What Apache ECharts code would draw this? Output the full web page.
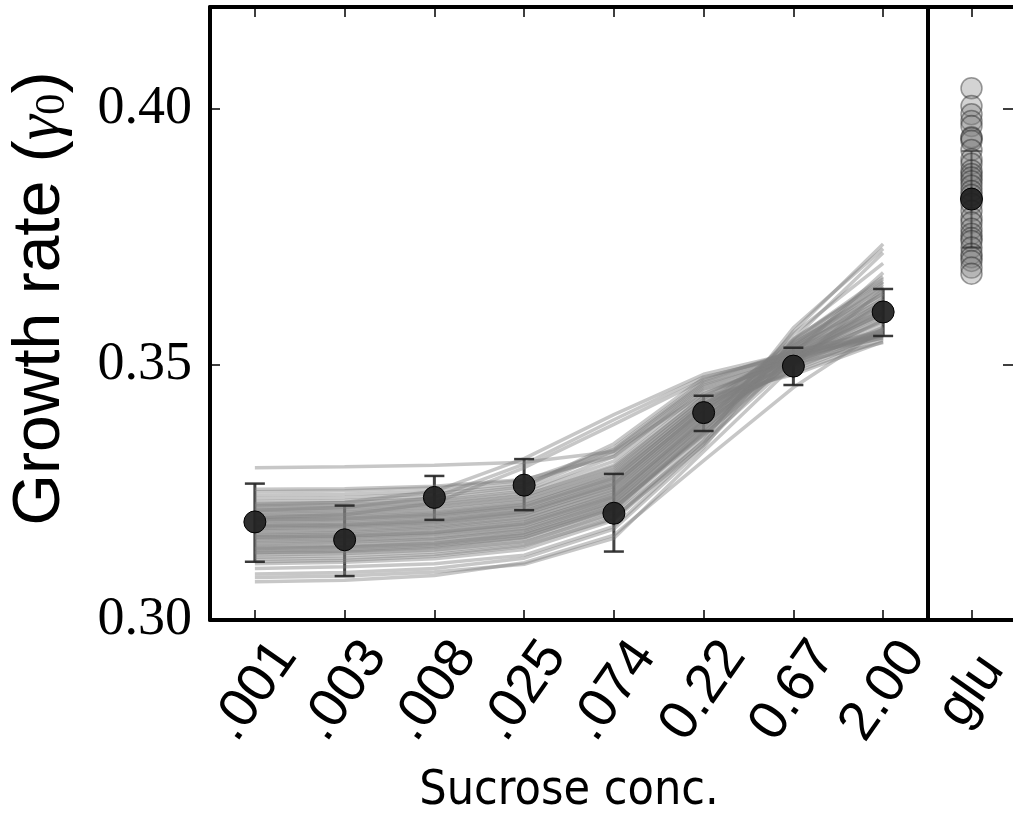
<!DOCTYPE html>
<html>
<head>
<meta charset="utf-8">
<script src="https://cdn.jsdelivr.net/npm/echarts@6/dist/echarts.min.js"></script>
<style>
html,body{margin:0;padding:0;background:#fff;}
#chart{width:1013px;height:822px;}
</style>
</head>
<body>
<div id="chart"></div>
<script>
// ---- data ----
const categories = ['.001', '.003', '.008', '.025', '.074', '0.22', '0.67', '2.00'];
const gluCategory = ['glu'];
const meanRate = [0.3192, 0.3157, 0.3240, 0.3264, 0.3209, 0.3406, 0.3497, 0.3603];
const errLow   = [0.3114, 0.3086, 0.3196, 0.3215, 0.3134, 0.3370, 0.3460, 0.3556];
const errHigh  = [0.3267, 0.3224, 0.3282, 0.3315, 0.3286, 0.3439, 0.3533, 0.3648];
const fitLines = [
  [0.3075, 0.3078, 0.3087, 0.3112, 0.3166, 0.3312, 0.3455, 0.3570],
  [0.3083, 0.3086, 0.3094, 0.3109, 0.3160, 0.3330, 0.3498, 0.3648],
  [0.3090, 0.3093, 0.3101, 0.3121, 0.3178, 0.3338, 0.3550, 0.3719],
  [0.3101, 0.3104, 0.3110, 0.3127, 0.3183, 0.3345, 0.3565, 0.3736],
  [0.3110, 0.3113, 0.3120, 0.3138, 0.3195, 0.3351, 0.3572, 0.3727],
  [0.3114, 0.3117, 0.3125, 0.3144, 0.3201, 0.3342, 0.3521, 0.3680],
  [0.3119, 0.3121, 0.3128, 0.3146, 0.3198, 0.3358, 0.3546, 0.3668],
  [0.3123, 0.3126, 0.3133, 0.3151, 0.3210, 0.3366, 0.3533, 0.3653],
  [0.3127, 0.3130, 0.3137, 0.3153, 0.3206, 0.3349, 0.3505, 0.3622],
  [0.3131, 0.3133, 0.3140, 0.3158, 0.3214, 0.3371, 0.3540, 0.3661],
  [0.3135, 0.3137, 0.3145, 0.3162, 0.3219, 0.3368, 0.3519, 0.3630],
  [0.3138, 0.3141, 0.3148, 0.3166, 0.3223, 0.3379, 0.3560, 0.3698],
  [0.3142, 0.3144, 0.3151, 0.3167, 0.3220, 0.3362, 0.3508, 0.3611],
  [0.3145, 0.3147, 0.3155, 0.3172, 0.3228, 0.3383, 0.3527, 0.3635],
  [0.3148, 0.3151, 0.3158, 0.3175, 0.3231, 0.3375, 0.3514, 0.3602],
  [0.3151, 0.3153, 0.3160, 0.3178, 0.3236, 0.3390, 0.3548, 0.3672],
  [0.3154, 0.3156, 0.3163, 0.3179, 0.3232, 0.3381, 0.3520, 0.3617],
  [0.3157, 0.3159, 0.3167, 0.3184, 0.3240, 0.3392, 0.3531, 0.3644],
  [0.3160, 0.3162, 0.3169, 0.3185, 0.3238, 0.3386, 0.3503, 0.3588],
  [0.3163, 0.3165, 0.3172, 0.3190, 0.3247, 0.3399, 0.3541, 0.3650],
  [0.3166, 0.3168, 0.3175, 0.3192, 0.3244, 0.3388, 0.3512, 0.3596],
  [0.3168, 0.3171, 0.3178, 0.3196, 0.3252, 0.3404, 0.3537, 0.3627],
  [0.3171, 0.3173, 0.3181, 0.3197, 0.3250, 0.3396, 0.3498, 0.3573],
  [0.3174, 0.3176, 0.3183, 0.3201, 0.3258, 0.3409, 0.3550, 0.3663],
  [0.3177, 0.3179, 0.3186, 0.3203, 0.3256, 0.3401, 0.3515, 0.3600],
  [0.3179, 0.3182, 0.3189, 0.3207, 0.3264, 0.3413, 0.3529, 0.3612],
  [0.3182, 0.3184, 0.3191, 0.3208, 0.3261, 0.3405, 0.3492, 0.3561],
  [0.3185, 0.3187, 0.3195, 0.3213, 0.3270, 0.3418, 0.3543, 0.3638],
  [0.3188, 0.3190, 0.3197, 0.3214, 0.3267, 0.3410, 0.3507, 0.3585],
  [0.3191, 0.3193, 0.3200, 0.3218, 0.3276, 0.3423, 0.3535, 0.3620],
  [0.3194, 0.3196, 0.3203, 0.3220, 0.3273, 0.3414, 0.3488, 0.3556],
  [0.3197, 0.3199, 0.3207, 0.3225, 0.3283, 0.3428, 0.3523, 0.3598],
  [0.3200, 0.3202, 0.3209, 0.3226, 0.3280, 0.3420, 0.3501, 0.3569],
  [0.3203, 0.3205, 0.3212, 0.3230, 0.3289, 0.3433, 0.3530, 0.3605],
  [0.3206, 0.3208, 0.3215, 0.3232, 0.3286, 0.3425, 0.3484, 0.3549],
  [0.3209, 0.3211, 0.3219, 0.3237, 0.3296, 0.3438, 0.3518, 0.3581],
  [0.3212, 0.3214, 0.3221, 0.3238, 0.3293, 0.3431, 0.3495, 0.3560],
  [0.3215, 0.3217, 0.3225, 0.3243, 0.3303, 0.3443, 0.3512, 0.3574],
  [0.3218, 0.3220, 0.3227, 0.3244, 0.3300, 0.3437, 0.3480, 0.3545],
  [0.3221, 0.3223, 0.3231, 0.3249, 0.3311, 0.3449, 0.3505, 0.3566],
  [0.3224, 0.3226, 0.3234, 0.3252, 0.3320, 0.3456, 0.3513, 0.3558],
  [0.3228, 0.3230, 0.3238, 0.3257, 0.3331, 0.3462, 0.3517, 0.3562],
  [0.3232, 0.3234, 0.3242, 0.3261, 0.3345, 0.3474, 0.3521, 0.3556],
  [0.3238, 0.3240, 0.3247, 0.3264, 0.3338, 0.3468, 0.3525, 0.3567],
  [0.3244, 0.3246, 0.3252, 0.3268, 0.3326, 0.3459, 0.3509, 0.3553],
  [0.3251, 0.3253, 0.3259, 0.3273, 0.3334, 0.3465, 0.3518, 0.3559],
  [0.3256, 0.3257, 0.3262, 0.3275, 0.3320, 0.3452, 0.3502, 0.3543],
  [0.3298, 0.3300, 0.3303, 0.3309, 0.3330, 0.3442, 0.3511, 0.3561],
  [0.3215, 0.3220, 0.3240, 0.3305, 0.3392, 0.3476, 0.3517, 0.3552],
  [0.3225, 0.3230, 0.3252, 0.3316, 0.3402, 0.3481, 0.3523, 0.3558],
  [0.3200, 0.3206, 0.3229, 0.3298, 0.3383, 0.3470, 0.3526, 0.3564],
  [0.3140, 0.3143, 0.3150, 0.3170, 0.3226, 0.3364, 0.3510, 0.3625],
  [0.3162, 0.3164, 0.3171, 0.3188, 0.3242, 0.3394, 0.3525, 0.3640],
  [0.3184, 0.3186, 0.3193, 0.3211, 0.3266, 0.3412, 0.3520, 0.3605],
  [0.3132, 0.3135, 0.3143, 0.3161, 0.3217, 0.3373, 0.3537, 0.3657],
  [0.3196, 0.3198, 0.3205, 0.3222, 0.3278, 0.3422, 0.3514, 0.3590]
];
const gluSamples = [0.4041, 0.4006, 0.3990, 0.3977, 0.3967, 0.3945, 0.3943, 0.3938, 0.3920,
  0.3902, 0.3893, 0.3880, 0.3873, 0.3866, 0.3859, 0.3850, 0.3840, 0.3832, 0.3815, 0.3801,
  0.3787, 0.3778, 0.3766, 0.3756, 0.3748, 0.3742, 0.3729, 0.3717, 0.3710, 0.3703, 0.3690, 0.3678];
const gluMean = 0.3824;
const gluLow = 0.3729;
const gluHigh = 0.3918;

// ---- chart ----
const chart = echarts.init(document.getElementById('chart'), null, {renderer: 'canvas'});
const BLACK = '#000';
const sans = 'Liberation Sans';
const condensed = "'DejaVu Sans Condensed', 'Liberation Sans', sans-serif";
const serif = 'Liberation Serif';

function spineX(gridIndex, data, position, showLabels, extra) {
  return Object.assign({
    type: 'category', gridIndex: gridIndex, data: data, position: position,
    boundaryGap: true,
    axisLine: {show: true, onZero: false, lineStyle: {color: BLACK, width: 4}},
    axisTick: {show: true, inside: true, length: 10, alignWithLabel: true, lineStyle: {color: BLACK, width: 1.5}},
    axisLabel: showLabels ? {show: true, interval: 0, rotate: 55, align: 'center', verticalAlign: 'middle',
      fontSize: 55, fontFamily: sans, color: BLACK, margin: 71} : {show: false},
    splitLine: {show: false}
  }, extra || {});
}
function spineY(gridIndex, position, ticks, labels, extra) {
  return Object.assign({
    type: 'value', gridIndex: gridIndex, position: position,
    min: 0.30, max: 0.42, interval: 0.05,
    axisLine: {show: true, onZero: false, lineStyle: {color: BLACK, width: 4}},
    axisTick: {show: !!ticks, inside: true, length: ticks === 'long' ? 12 : 10, lineStyle: {color: BLACK, width: 1.5}},
    axisLabel: labels ? {show: true, showMaxLabel: false, fontSize: 54, fontFamily: serif, color: BLACK, margin: 18,
      formatter: v => v.toFixed(2)} : {show: false},
    splitLine: {show: false}
  }, extra || {});
}

const series = [];
// error bar stems (beneath the fit lines)
series.push({
  type: 'custom', xAxisIndex: 0, yAxisIndex: 0, z: 1, silent: true,
  data: categories.map((c, i) => [i, errLow[i], errHigh[i]]),
  renderItem: function (params, api) {
    const a = api.coord([api.value(0), api.value(1)]);
    const b = api.coord([api.value(0), api.value(2)]);
    return {type: 'line', shape: {x1: a[0], y1: a[1], x2: b[0], y2: b[1]},
      style: {stroke: 'rgba(35,35,35,0.85)', lineWidth: 3}};
  }
});
// fit lines
fitLines.forEach(function (vals) {
  series.push({
    type: 'line', xAxisIndex: 0, yAxisIndex: 0, data: vals, symbol: 'none', z: 2, silent: true,
    lineStyle: {color: 'rgba(128,128,128,0.44)', width: 3.5}
  });
});
// caps
function capRender(params, api) {
  const a = api.coord([api.value(0), api.value(1)]);
  const b = api.coord([api.value(0), api.value(2)]);
  const st = {stroke: 'rgba(35,35,35,0.9)', lineWidth: 2.5};
  return {type: 'group', children: [
    {type: 'line', shape: {x1: a[0] - 10, y1: a[1], x2: a[0] + 10, y2: a[1]}, style: st},
    {type: 'line', shape: {x1: b[0] - 10, y1: b[1], x2: b[0] + 10, y2: b[1]}, style: st}
  ]};
}
series.push({
  type: 'custom', xAxisIndex: 0, yAxisIndex: 0, z: 3, silent: true,
  data: categories.map((c, i) => [i, errLow[i], errHigh[i]]),
  renderItem: capRender
});
// mean points
series.push({
  type: 'scatter', xAxisIndex: 0, yAxisIndex: 0, z: 4, silent: true,
  data: meanRate.map((v, i) => [i, v]), symbol: 'circle', symbolSize: 22,
  itemStyle: {color: 'rgba(32,32,32,0.93)', borderColor: '#000', borderWidth: 1, opacity: 1}
});
// glu panel
series.push({
  type: 'scatter', xAxisIndex: 2, yAxisIndex: 2, z: 2, silent: true,
  data: gluSamples.map(v => [0, v]), symbol: 'circle', symbolSize: 21,
  itemStyle: {color: 'rgba(128,128,128,0.35)', borderColor: 'rgba(40,40,40,0.45)', borderWidth: 1.5, opacity: 1}
});
series.push({
  type: 'custom', xAxisIndex: 2, yAxisIndex: 2, z: 3, silent: true,
  data: [[0, gluLow, gluHigh]],
  renderItem: function (params, api) {
    const a = api.coord([api.value(0), api.value(1)]);
    const b = api.coord([api.value(0), api.value(2)]);
    const st = {stroke: 'rgba(35,35,35,0.55)', lineWidth: 2};
    return {type: 'group', children: [
      {type: 'line', shape: {x1: a[0], y1: a[1], x2: b[0], y2: b[1]}, style: st},
      {type: 'line', shape: {x1: a[0] - 10, y1: a[1], x2: a[0] + 10, y2: a[1]}, style: st},
      {type: 'line', shape: {x1: b[0] - 10, y1: b[1], x2: b[0] + 10, y2: b[1]}, style: st}
    ]};
  }
});
series.push({
  type: 'scatter', xAxisIndex: 2, yAxisIndex: 2, z: 4, silent: true,
  data: [[0, gluMean]], symbol: 'circle', symbolSize: 22,
  itemStyle: {color: 'rgba(32,32,32,0.93)', borderColor: '#000', borderWidth: 1, opacity: 1}
});

const option = {
  animation: false,
  backgroundColor: '#fff',
  grid: [
    {left: 210, right: 85, top: 7, bottom: 202, containLabel: false, outerBoundsMode: 'none'},
    {left: 928, right: -2, top: 7, bottom: 202, containLabel: false, outerBoundsMode: 'none'}
  ],
  xAxis: [
    spineX(0, categories, 'bottom', true, {
      name: 'Sucrose conc.', nameLocation: 'middle', nameGap: 148,
      nameTextStyle: {fontSize: 48, fontFamily: condensed, color: BLACK}
    }),
    spineX(0, categories, 'top', false),
    spineX(1, gluCategory, 'bottom', true),
    spineX(1, gluCategory, 'top', false)
  ],
  yAxis: [
    spineY(0, 'left', true, true, {
      name: 'Growth rate ({g|γ}{s|0})', nameLocation: 'middle', nameGap: 136,
      nameTextStyle: {fontSize: 66, fontFamily: sans, color: BLACK, padding: [0, 0, 0, 30],
        rich: {
          g: {fontSize: 64, fontFamily: serif, fontStyle: 'italic', color: BLACK},
          s: {fontSize: 43, fontFamily: serif, color: BLACK, verticalAlign: 'bottom'}
        }}
    }),
    spineY(0, 'right', false, false),
    spineY(1, 'left', false, false),
    spineY(1, 'right', 'long', false)
  ],
  series: series
};
chart.setOption(option);
</script>
</body>
</html>
